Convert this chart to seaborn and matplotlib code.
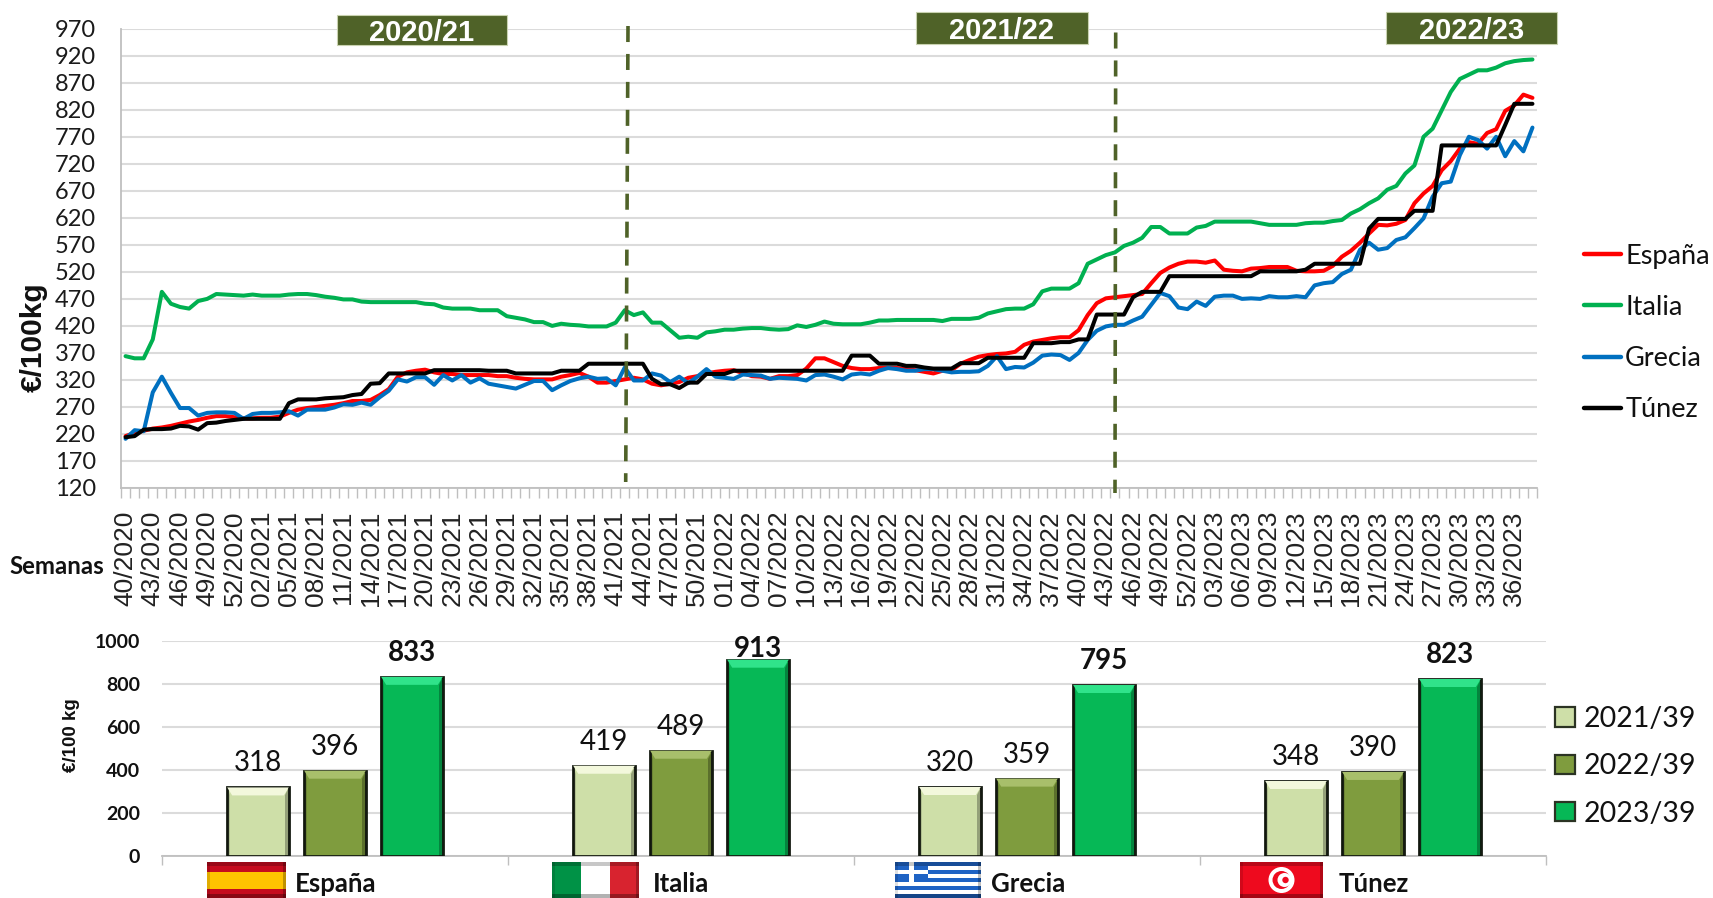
import matplotlib
matplotlib.use("Agg")
import matplotlib.pyplot as plt
from matplotlib.patches import Rectangle, Polygon, Circle
from matplotlib.lines import Line2D
from matplotlib.transforms import Affine2D
import numpy as np
import pandas as pd
import seaborn as sns

espana = [216,222,226,230,232,235,239,243,246,250,
253,253,251,249,249,250,250,252,259,265,
268,270,272,274,277,281,281,283,292,303,
326,334,337,339,334,331,331,329,329,329,
329,327,327,324,322,321,321,321,326,329,
333,326,315,315,318,321,324,321,313,310,
313,316,324,327,332,335,337,338,333,327,
326,322,327,327,329,341,360,360,353,346,
342,340,340,342,342,342,340,338,335,332,
337,338,350,357,363,366,368,369,372,385,
391,394,397,399,399,412,440,462,471,473,
475,477,479,499,518,528,535,539,539,537,
541,524,522,521,526,527,529,529,529,522,
521,521,522,531,548,559,574,591,607,606,
609,616,647,665,679,708,725,748,760,757,
777,784,818,828,848,842]
italia = [364,360,360,395,483,461,455,452,466,470,
479,478,477,476,478,476,476,476,478,479,
479,477,474,472,469,469,465,464,464,464,
464,464,464,461,460,454,452,452,452,449,
449,449,438,435,432,427,427,420,424,422,
421,419,419,419,426,449,440,445,426,426,
412,398,400,398,408,410,413,413,415,416,
416,414,413,414,421,418,422,428,424,423,
423,423,426,430,430,431,431,431,431,431,
429,433,433,433,435,443,447,451,452,452,
460,484,489,489,489,499,535,543,551,556,
568,574,583,603,603,591,591,591,602,605,
613,613,613,613,613,610,607,607,607,607,
610,611,611,614,616,628,636,647,656,672,
679,702,717,770,785,819,853,877,885,893,
893,898,906,910,912,913]
grecia = [211,227,225,297,326,296,268,268,254,259,
260,260,259,248,257,259,259,260,262,254,
265,265,265,269,275,274,278,274,288,300,
321,317,325,325,311,329,319,329,315,323,
313,310,307,304,311,318,318,301,310,318,
323,326,322,323,310,343,319,319,332,328,
316,326,314,326,340,326,324,322,330,329,
328,322,324,323,322,319,329,330,326,321,
330,332,330,337,342,340,337,337,340,340,
337,334,335,335,336,346,364,340,344,343,
352,365,367,366,357,370,394,411,419,422,
422,430,437,459,481,475,454,451,465,457,
474,476,476,470,471,470,475,473,473,475,
473,495,499,501,516,524,561,574,561,564,
579,584,601,619,659,684,687,736,770,764,
748,770,734,762,743,787]
tunez = [214,216,228,229,229,230,235,234,228,240,
241,244,246,248,248,248,248,248,277,284,
284,284,286,287,288,292,294,313,314,332,
332,332,332,332,338,338,338,338,338,338,
337,337,337,332,332,332,332,332,337,337,
337,350,350,350,350,350,350,350,322,312,
312,305,315,315,331,331,331,337,337,337,
337,337,337,337,337,337,337,337,337,337,
365,365,365,350,350,350,346,346,343,341,
341,341,351,351,351,361,361,361,361,361,
388,388,388,390,390,395,395,441,441,441,
441,473,483,483,483,512,512,512,512,512,
512,512,512,512,512,521,521,521,521,521,
524,535,535,535,535,535,535,600,618,618,
618,618,633,633,633,754,754,754,754,754,
754,754,792,831,831,831]
week_labels = ["40/2020","43/2020","46/2020","49/2020","52/2020","02/2021","05/2021","08/2021",
"11/2021","14/2021","17/2021","20/2021","23/2021","26/2021","29/2021","32/2021","35/2021",
"38/2021","41/2021","44/2021","47/2021","50/2021","01/2022","04/2022","07/2022","10/2022",
"13/2022","16/2022","19/2022","22/2022","25/2022","28/2022","31/2022","34/2022","37/2022",
"40/2022","43/2022","46/2022","49/2022","52/2022","03/2023","06/2023","09/2023","12/2023",
"15/2023","18/2023","21/2023","24/2023","27/2023","30/2023","33/2023","36/2023"]
y_ticks = [120,170,220,270,320,370,420,470,520,570,620,670,720,770,820,870,920,970]
countries = ["España","Italia","Grecia","Túnez"]
line_colors = ["#FF0000","#00B050","#0070C0","#000000"]
seasons = ["2021/39","2022/39","2023/39"]
bar_2021 = [318,419,320,348]
bar_2022 = [396,489,359,390]
bar_2023 = [833,913,795,823]
bar_colors = ["#CEDFA8","#7F9C3E","#06B856"]
bevel_colors = ["#F3F8DC","#A8BF6B","#30E38A"]
season_boxes = ["2020/21","2021/22","2022/23"]
OLIVE = "#4F6228"
GRID = "#DBDBDB"
AXIS = "#BFBFBF"

W, H = 1713, 898
sns.set_theme(style="white")
plt.rcParams["font.family"] = ["Lato", "DejaVu Sans"]
fig = plt.figure(figsize=(W/100, H/100), dpi=100, facecolor="white")
def ax_px(l, t, r, b):
    return fig.add_axes([l/W, 1-b/H, (r-l)/W, (b-t)/H])
px = Affine2D().scale(1/W, -1/H).translate(0, 1) + fig.transFigure

# ---------- main chart
ax = ax_px(121, 28.7, 1537, 488)
n = len(espana)
df = pd.DataFrame({"semana": np.arange(n), "España": espana, "Italia": italia,
                   "Grecia": grecia, "Túnez": tunez}).melt("semana", var_name="pais", value_name="precio")
sns.lineplot(data=df, x="semana", y="precio", hue="pais", hue_order=countries,
             palette=line_colors, linewidth=2.9, ax=ax, legend=False, estimator=None, sort=False,
             solid_joinstyle="round")
ax.set_xlim(-0.5, n-0.5)
ax.set_ylim(120, 970)
ax.set_yticks(y_ticks)
ax.set_yticklabels([str(v) for v in y_ticks], fontsize=17, color="#1a1a1a")
ax.yaxis.grid(True, color=GRID, lw=1.5)
ax.set_axisbelow(True)
ax.tick_params(axis="y", length=0, pad=18)
ax.set_xticks(np.arange(0, 156, 3))
ax.set_xticklabels(week_labels, rotation=90, ha="center", va="top",
                   fontsize=19, family=["Liberation Sans"], color="#222222")
ax.set_xticks(np.arange(-0.5, n, 1), minor=True)
ax.tick_params(axis="x", which="major", length=0, pad=16)
ax.tick_params(axis="x", which="minor", length=7, width=1.0, color=AXIS, bottom=True)
for s in ["top", "right"]:
    ax.spines[s].set_visible(False)
for s in ["left", "bottom"]:
    ax.spines[s].set_color(AXIS)
    ax.spines[s].set_linewidth(1.3)
ax.set_xlabel(""); ax.set_ylabel("")

fig.text(34/W, 1-337/H, "€/100kg", rotation=90, ha="center", va="center", fontsize=21.5,
         fontweight="bold", family=["Liberation Sans"], color="#111111")
fig.text(9/W, 1-567/H, "Semanas", ha="left", va="center", fontsize=17.3, fontweight="bold", color="#111111")

for (x0, x1, t0, t1), lab in zip([(337, 507, 14.5, 45), (916, 1087.5, 11.5, 44.4), (1386, 1557, 11.5, 44.4)],
                                 season_boxes):
    fig.patches.append(Rectangle((x0, t0), x1-x0, t1-t0, transform=px, facecolor=OLIVE,
                                 edgecolor="#C9D2B0", lw=0.8, figure=fig))
    fig.text((x0+x1)/2/W, 1-((t0+t1)/2+3)/H, lab, ha="center", va="center", color="white",
             fontsize=21, fontweight="bold", family=["Liberation Sans"])

for (xa, ya, xb, yb) in [(628, 26, 625.7, 482), (1115.7, 32.5, 1115, 493)]:
    fig.add_artist(Line2D([xa, xb], [ya, yb], transform=px, color=OLIVE, lw=2.6,
                          dashes=(4.44, 3.3), dash_capstyle="butt", zorder=5))

handles = [Line2D([], [], color=c, lw=3.2) for c in line_colors]
leg = ax.legend(handles, countries, loc="upper left", bbox_to_anchor=(1584/W, 1-243.5/H),
                bbox_transform=fig.transFigure, frameon=False, fontsize=19.5, handlelength=1.37,
                handletextpad=0.15, labelspacing=0.97, borderpad=0, borderaxespad=0)
for t in leg.get_texts():
    t.set_color("#111111")

# ---------- bar chart
bx = ax_px(162, 641, 1546, 855.7)
bdf = pd.DataFrame({"pais": countries, "2021/39": bar_2021, "2022/39": bar_2022, "2023/39": bar_2023}
                   ).melt("pais", var_name="campana", value_name="valor")
sns.barplot(data=bdf, x="pais", y="valor", hue="campana", order=countries, hue_order=seasons,
            palette=bar_colors, width=0.6676, gap=0.2, saturation=1, edgecolor="#141a10",
            linewidth=2.0, ax=bx, zorder=3)
bx.set_xlim(-0.5, 3.5)
bx.set_ylim(0, 1000)
bx.set_yticks([0, 200, 400, 600, 800, 1000])
bx.set_yticklabels(["0", "200", "400", "600", "800", "1000"], fontsize=14, fontweight="bold", color="#111111")
bx.yaxis.grid(True, color=GRID, lw=1.5)
bx.set_axisbelow(True)
bx.tick_params(axis="y", length=0, pad=16)
bx.set_xticks([])
bx.set_xticks(np.arange(-0.5, 4, 1), minor=True)
bx.tick_params(axis="x", which="minor", length=6.5, width=1.0, color=AXIS, bottom=True)
bx.set_xlabel(""); bx.set_ylabel("")
for s in ["top", "right", "left"]:
    bx.spines[s].set_visible(False)
bx.spines["bottom"].set_color(AXIS)
bx.spines["bottom"].set_linewidth(1.3)
fig.text(71/W, 1-735/H, "€/100 kg", rotation=90, ha="center", va="center", fontsize=13.5,
         fontweight="bold", family=["Liberation Sans"], color="#111111")

dx = 5/346     # bevel width, categories
dy = 8/0.2147  # bevel height, values
for k, cont in enumerate(bx.containers):
    for p in cont.patches:
        x0, w, h = p.get_x(), p.get_width(), p.get_height()
        x1 = x0+w
        bx.add_patch(Polygon([(x0, h), (x1, h), (x1-dx, h-dy), (x0+dx, h-dy)], closed=True,
                             facecolor=bevel_colors[k], edgecolor="none", zorder=4))
        bx.add_patch(Polygon([(x1, h), (x1, 0), (x1-dx*0.7, 0), (x1-dx*0.7, h-dy)], closed=True,
                             facecolor="black", alpha=0.28, edgecolor="none", zorder=4))
        bx.add_patch(Polygon([(x0, h), (x0, 0), (x0+dx*0.5, 0), (x0+dx*0.5, h-dy)], closed=True,
                             facecolor="black", alpha=0.14, edgecolor="none", zorder=4))
    vals = [p.get_height() for p in cont.patches]
    txts = bx.bar_label(cont, labels=[str(int(v)) for v in vals], padding=8, fontsize=20,
                        fontweight="bold" if k == 2 else "normal", color="#111111", zorder=6)
    if k == 2:
        txts[1].set_position((txts[1].xyann[0], -1.5))

handles_b = [Rectangle((0, 0), 1, 1, facecolor=c, edgecolor="#2b3323", lw=1.6) for c in bar_colors]
bx.legend(handles_b, seasons, loc="upper left", bbox_to_anchor=(1555/W, 1-706/H),
          bbox_transform=fig.transFigure, frameon=False, fontsize=20.5, handlelength=0.70,
          handleheight=0.66, handletextpad=0.3, labelspacing=0.75, borderpad=0, borderaxespad=0,
          labelcolor="#111111")

# ---------- flags
def flag_rect(x, y, w, h, c, z=6, a=1):
    fig.add_artist(Rectangle((x, y), w, h, transform=px, facecolor=c, edgecolor="none", zorder=z, alpha=a))

def bevel(x, y, w, h):
    flag_rect(x, y, w, 4, "black", 8, 0.22)
    flag_rect(x, y+h-4, w, 4, "black", 8, 0.30)
    flag_rect(x, y, 3, h, "black", 8, 0.12)
    flag_rect(x+w-3, y, 3, h, "black", 8, 0.25)

Y0, FH = 862, 36
# España
flag_rect(207, Y0, 79, FH, "#C60B1E")
flag_rect(207, Y0+10, 79, 17, "#FFC400")
bevel(207, Y0, 79, FH)
# Italia
flag_rect(552, Y0, 29, FH, "#009246")
flag_rect(581, Y0, 29, FH, "#FFFFFF")
flag_rect(610, Y0, 29, FH, "#D8232F")
bevel(552, Y0, 87, FH)
# Grecia
flag_rect(895, Y0, 86, FH, "#FFFFFF")
for i in range(0, 9, 2):
    flag_rect(895, Y0+i*FH/9, 86, FH/9, "#1F63C4")
flag_rect(895, Y0, 33, 20, "#1F63C4")
flag_rect(909, Y0, 5, 20, "#FFFFFF")
flag_rect(895, Y0+8, 33, 4, "#FFFFFF")
bevel(895, Y0, 86, FH)
# Túnez
flag_rect(1240, Y0, 83, FH, "#EE0A1E")
fig.add_artist(Circle((1281.5, 880), 13, transform=px, facecolor="white", edgecolor="none", zorder=7))
fig.add_artist(Circle((1281.5, 880), 9, transform=px, facecolor="#EE0A1E", edgecolor="none", zorder=7))
fig.add_artist(Circle((1284.5, 880), 7, transform=px, facecolor="white", edgecolor="none", zorder=7))
fig.add_artist(Circle((1285.5, 880), 3.2, transform=px, facecolor="#EE0A1E", edgecolor="none", zorder=7))
bevel(1240, Y0, 83, FH)

for x, name in zip([295, 653, 991, 1339], countries):
    fig.text(x/W, 1-884/H, name, ha="left", va="center", fontsize=18.5, fontweight="bold", color="#111111")

fig.savefig("out.png", dpi=100, facecolor="white")
